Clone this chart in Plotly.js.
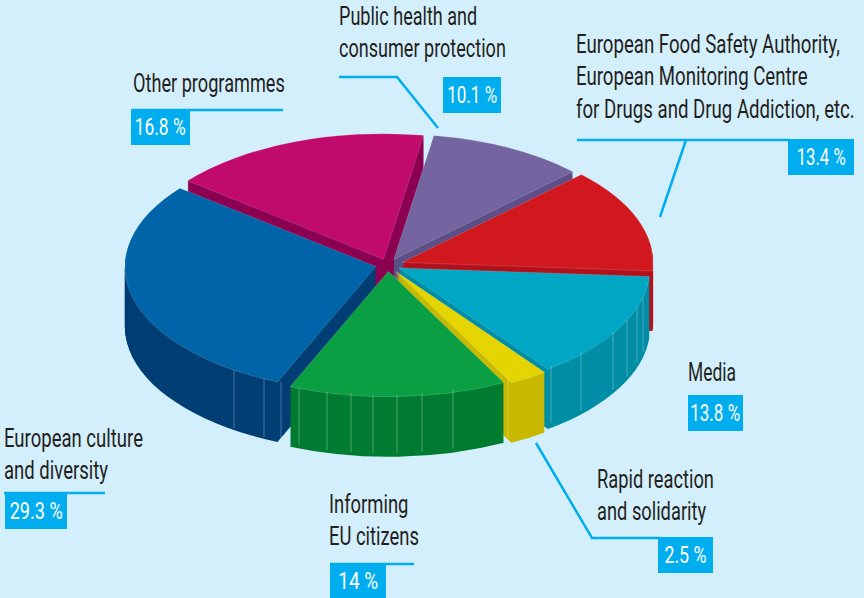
<!DOCTYPE html>
<html><head><meta charset="utf-8">
<script src="https://cdn.plot.ly/plotly-3.0.1.min.js"></script>
<style>html,body{margin:0;padding:0;background:#d4effc}#c{width:864px;height:598px}</style></head>
<body><div id="c"></div><script>
const categories=["Public health and consumer protection","European Food Safety Authority, European Monitoring Centre for Drugs and Drug Addiction, etc.","Media","Rapid reaction and solidarity","Informing EU citizens","European culture and diversity","Other programmes"];
const shares=[10.1,13.4,13.8,2.5,14,29.3,16.8];
const topColors=["#74649f","#d2181f","#00a7c4","#e4d400","#0b9f43","#0064a8","#c00a6c"];
const sideColors=["#5d4f88","#b0121b","#008ea6","#c8b900","#007c32","#003f75","#8c0052"];
const pulls=[0.05,0.06,0.05,0.06,0.05,0.05,0.05];
const labelText=["Public health and<br>consumer protection","European Food Safety Authority,<br>European Monitoring Centre<br>for Drugs and Drug Addiction, etc.","Media","Rapid reaction<br>and solidarity","Informing<br>EU citizens","European culture<br>and diversity","Other programmes"];
const pctText=["10.1 %","13.4 %","13.8 %","2.5 %","14 %","29.3 %","16.8 %"];
const labelWidths=[167,279,48,117,90,139,152];
const pctWidths=[50,49,50,42,40,53,51];

const W=864,H=598,FONT='Roboto,"Liberation Sans",sans-serif';
const DEPTH=60,CX=388,CY=265,K=0.5,R=266;
const X=v=>v/W,Y=v=>1-v/H;
const traces=[];
for(let i=0;i<=DEPTH;i++){
  const top=i===DEPTH;
  traces.push({type:"pie",labels:categories,values:shares,sort:false,direction:"clockwise",rotation:9.2,
    pull:pulls,textinfo:"none",hoverinfo:"skip",showlegend:false,
    domain:{x:[X(CX-R),X(CX+R)],y:[0,1]},
    marker:{colors:top?topColors:sideColors,line:{width:top?0.6:0,color:"rgba(255,255,255,0.35)"}}});
}
const labelPos=[[338,1],[575,29],[687,357],[596,464],[328,489],[3,423],[132,68]];
const boxPos=[[472,95],[821,157],[715,413],[685,555],[358,581],[36,511],[160,127]];
const annotations=[];
labelText.forEach((t,i)=>annotations.push({xref:"paper",yref:"paper",x:X(labelPos[i][0]),y:Y(labelPos[i][1]),xanchor:"left",yanchor:"top",align:"left",showarrow:false,text:t,font:{family:FONT,size:25,color:"#231f20"},borderpad:0}));
pctText.forEach((t,i)=>annotations.push({xref:"paper",yref:"paper",x:X(boxPos[i][0]),y:Y(boxPos[i][1]),xanchor:"center",yanchor:"middle",showarrow:false,text:t,font:{family:FONT,size:24,color:"#ffffff"}}));
const line=(pts)=>({type:"path",xref:"paper",yref:"paper",path:"M"+pts.map(p=>X(p[0])+","+Y(p[1])).join(" L"),line:{color:"#00aeef",width:2.5}});
const box=(x0,y0,x1,y1)=>({type:"rect",xref:"paper",yref:"paper",x0:X(x0),x1:X(x1),y0:Y(y0),y1:Y(y1),fillcolor:"#00aeef",line:{width:0}});
const facet=(x,y0,y1)=>({type:"line",xref:"paper",yref:"paper",x0:X(x),x1:X(x),y0:Y(y0),y1:Y(y1),line:{color:"rgba(255,255,255,0.28)",width:1}});
const facets=[[234,370,428],[264,378,437],[281,382,440],[299,388,445],[327,392,450],[351,393,452],[373,395,453],[397,395,453],[422,393,452],[453,390,448],[508,379,437],[551,366,423],[581,352,410],[613,332,390],[627,320,377],[637,307,362],[643,298,352]];
const shapes=[
 line([[339,77],[397,77],[438,128]]),
 line([[577,140],[790,140]]),
 line([[686,140],[660,217]]),
 line([[536,443],[592,538],[660,538]]),
 line([[330,564],[414,564]]),
 line([[4,493],[105,493]]),
 line([[132,110],[283,110]]),
 box(443,77,501,113),box(788,139,854,175),box(688,395,743,431),box(658,537,713,573),box(330,564,386,598),box(5,493,67,529),box(131,109,190,145),
 ...facets.map(f=>facet(f[0],f[1],f[2]))
];
Plotly.newPlot("c",traces,{width:W,height:H,margin:{l:0,r:0,t:0,b:0},paper_bgcolor:"#d4effc",plot_bgcolor:"#d4effc",annotations,shapes},{displayModeBar:false,staticPlot:true}).then(async()=>{
  const cyPlot=H/2;
  document.querySelectorAll(".pielayer .trace").forEach((g,i)=>{
    const off=DEPTH-i;
    g.setAttribute("transform","matrix(1,0,0,"+K+",0,"+(CY-K*cyPlot+off)+")");
  });
  if(document.fonts&&document.fonts.ready) await document.fonts.ready;
  const n=labelText.length;
  document.querySelectorAll(".annotation-text").forEach((t,i)=>{
    const b=t.getBBox();
    const target=i<n?labelWidths[i]:pctWidths[i-n];
    const sx=target/b.width;
    const x0=i<n?b.x:b.x+b.width/2;
    t.setAttribute("transform","translate("+x0+",0) scale("+sx+",1) translate("+(-x0)+",0)");
  });
});
</script></body></html>
